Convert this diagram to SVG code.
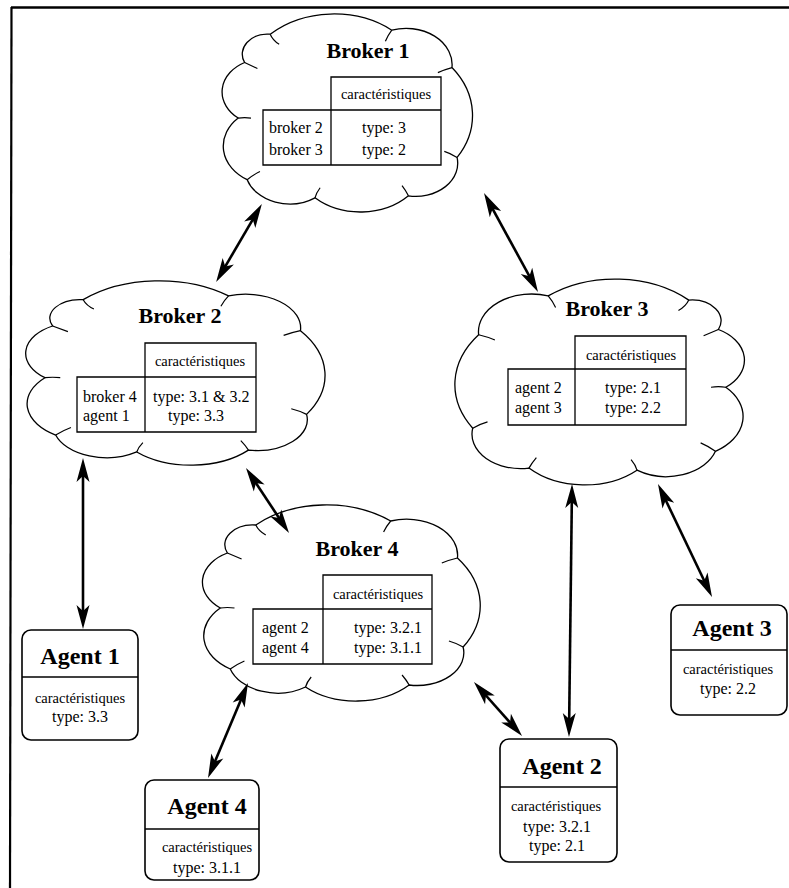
<svg xmlns="http://www.w3.org/2000/svg" width="789" height="888" viewBox="0 0 789 888">
<style>
text{font-family:"Liberation Serif","Times New Roman",serif;fill:#000}
.bt{font-size:22px;font-weight:bold;text-anchor:middle}
.at{font-size:24px;font-weight:bold;text-anchor:middle}
.hd{font-size:14.5px;text-anchor:middle}
.tx{font-size:16px}
.mid{text-anchor:middle}
.end{text-anchor:end}
.tbl{fill:none;stroke:#000;stroke-width:1.3}
.box{fill:#fff;stroke:#000;stroke-width:1.6}
.cl{fill:#fff;stroke:#000;stroke-width:1.3;vector-effect:non-scaling-stroke}
.tail{fill:none;stroke:#000;stroke-width:1.2;vector-effect:non-scaling-stroke}
.arr{fill:none;stroke:#000;stroke-width:2.6;marker-start:url(#ah);marker-end:url(#ah)}
</style>
<defs>
<marker id="ah" markerUnits="userSpaceOnUse" orient="auto-start-reverse" overflow="visible" refX="0" refY="0" markerWidth="1" markerHeight="1">
<path d="M10,0 L-14,-6.5 L-8,0 L-14,6.5 Z" fill="#000"/>
</marker>
<g id="cloud">
<path class="cl" d="M-60,-78 A71.8,71.8 0 0 1 35,-82 A35.9,35.9 0 0 1 82,-45 A77.9,77.9 0 0 1 86,44 A32.8,32.8 0 0 1 48,82 A51.9,51.9 0 0 1 -25,84 A35,35 0 0 1 -78,66 A38.9,38.9 0 0 1 -85,5 A32.9,32.9 0 0 1 -80,-50 A19.8,19.8 0 0 1 -60,-78 Z"/>
<path class="tail" d="M-60,-78 Q-58,-72 -53,-68 M35,-82 Q32,-77 30,-71 M82,-45 Q76,-43 71,-40 M86,44 Q81,40 76,38 M48,82 Q46,77 43,72 M-25,84 Q-24,79 -21,74 M-78,66 Q-73,61 -68,58 M-85,5 Q-80,4 -75,5 M-80,-50 Q-75,-47 -70,-44"/>
</g>
</defs>
<rect width="789" height="888" fill="#fff"/>
<g id="frame" stroke="#000" fill="none">
<line x1="11" y1="7.5" x2="789" y2="7.5" stroke-width="2.6"/>
<line x1="11.5" y1="7" x2="10" y2="888" stroke-width="2.2"/>
</g>
<g id="broker1">
<use href="#cloud" transform="translate(347,113) scale(1.28,1.01)"/>
<text class="bt" x="368" y="58">Broker 1</text>
<path class="tbl" d="M331,110 V77 H441 V165 H263 V110 H441 M331,110 V165"/>
<text class="hd" x="386" y="99">caractéristiques</text>
<text class="tx" x="269" y="133">broker 2</text>
<text class="tx" x="269" y="155">broker 3</text>
<text class="tx mid" x="384" y="133">type: 3</text>
<text class="tx mid" x="384" y="155">type: 2</text>
</g>
<g id="broker2">
<use href="#cloud" transform="translate(175,373) scale(1.53,0.94)"/>
<text class="bt" x="180" y="323">Broker 2</text>
<path class="tbl" d="M145,377 V343 H256 V432 H77 V377 H256 M145,377 V432"/>
<text class="hd" x="200" y="366">caractéristiques</text>
<text class="tx" x="83" y="402">broker 4</text>
<text class="tx" x="83" y="421">agent 1</text>
<text class="tx" x="153" y="402">type: 3.1 &amp; 3.2</text>
<text class="tx" x="168" y="421">type: 3.3</text>
</g>
<g id="broker3">
<use href="#cloud" transform="translate(600,382) scale(-1.48,1.05)"/>
<text class="bt" x="607" y="316">Broker 3</text>
<path class="tbl" d="M575,369 V336 H686 V425 H508 V369 H686 M575,369 V425"/>
<text class="hd" x="631" y="360">caractéristiques</text>
<text class="tx" x="515" y="393">agent 2</text>
<text class="tx" x="515" y="413">agent 3</text>
<text class="tx mid" x="633" y="393">type: 2.1</text>
<text class="tx mid" x="633" y="413">type: 2.2</text>
</g>
<g id="broker4">
<use href="#cloud" transform="translate(341,603) scale(1.42,1.0)"/>
<text class="bt" x="357" y="556">Broker 4</text>
<path class="tbl" d="M323,609 V575 H432 V664 H253 V609 H432 M323,609 V664"/>
<text class="hd" x="378" y="599">caractéristiques</text>
<text class="tx" x="262" y="633">agent 2</text>
<text class="tx" x="262" y="653">agent 4</text>
<text class="tx end" x="422" y="633">type: 3.2.1</text>
<text class="tx end" x="422" y="653">type: 3.1.1</text>
</g>
<g id="agent1">
<rect class="box" x="22" y="630" width="116" height="110" rx="9"/>
<line x1="22" y1="677" x2="138" y2="677" stroke="#000" stroke-width="1.3"/>
<text class="at" x="80" y="664">Agent 1</text>
<text class="hd" x="80" y="703">caractéristiques</text>
<text class="tx mid" x="80" y="722">type: 3.3</text>
</g>
<g id="agent4">
<rect class="box" x="145" y="780" width="114" height="100" rx="9"/>
<line x1="145" y1="829" x2="259" y2="829" stroke="#000" stroke-width="1.3"/>
<text class="at" x="207" y="814">Agent 4</text>
<text class="hd" x="207" y="852">caractéristiques</text>
<text class="tx mid" x="207" y="873">type: 3.1.1</text>
</g>
<g id="agent2">
<rect class="box" x="500" y="739" width="117" height="123" rx="9"/>
<line x1="500" y1="787" x2="617" y2="787" stroke="#000" stroke-width="1.3"/>
<text class="at" x="562" y="774">Agent 2</text>
<text class="hd" x="556" y="811">caractéristiques</text>
<text class="tx mid" x="557" y="832">type: 3.2.1</text>
<text class="tx mid" x="557" y="851">type: 2.1</text>
</g>
<g id="agent3">
<rect class="box" x="671" y="605" width="116" height="110" rx="9"/>
<line x1="671" y1="650" x2="787" y2="650" stroke="#000" stroke-width="1.3"/>
<text class="at" x="732" y="636">Agent 3</text>
<text class="hd" x="728" y="674">caractéristiques</text>
<text class="tx mid" x="728" y="694">type: 2.2</text>
</g>
<g id="connectors">
<line class="arr" x1="256.8" y1="212.6" x2="221.2" y2="273.4"/>
<line class="arr" x1="488.8" y1="201.8" x2="533.2" y2="283.2"/>
<line class="arr" x1="83" y1="468" x2="83" y2="619"/>
<line class="arr" x1="251.5" y1="476.3" x2="283.5" y2="524.7"/>
<line class="arr" x1="571.9" y1="494" x2="569.1" y2="727"/>
<line class="arr" x1="662.3" y1="493" x2="707.7" y2="588"/>
<line class="arr" x1="244.1" y1="692.2" x2="211.9" y2="768.8"/>
<line class="arr" x1="480.6" y1="689.5" x2="515.4" y2="728.5"/>
</g>
</svg>
